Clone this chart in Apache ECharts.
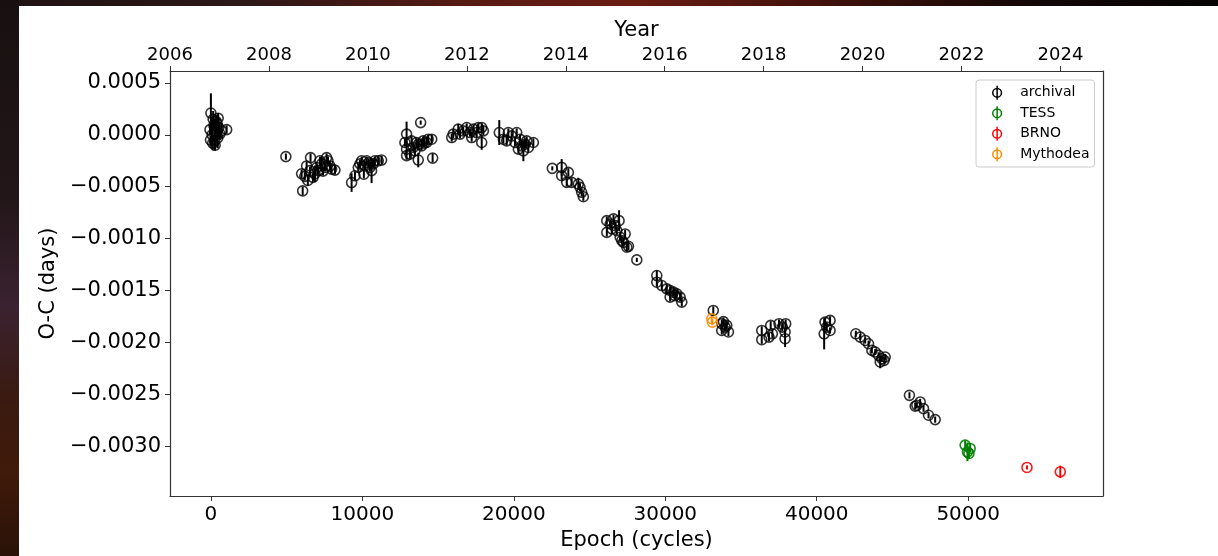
<!DOCTYPE html>
<html>
<head>
<meta charset="utf-8">
<script src="https://cdn.jsdelivr.net/npm/echarts@6/dist/echarts.min.js"></script>
<style>
  html, body { margin: 0; padding: 0; }
  body {
    width: 1218px; height: 556px; overflow: hidden; position: relative;
    background: linear-gradient(90deg, #1e1212 0%, #2c1818 20%, #5a1a12 40%, #6a1c12 52%, #3a100a 70%, #120707 85%, #060303 100%);
  }
  .leftStrip {
    position: absolute; left: 0; top: 0; width: 19px; height: 556px;
    background: linear-gradient(180deg, #181010 0%, #221618 35%, #3a2230 55%, #3a1a10 72%, #401a0a 85%, #2a1208 100%);
  }
  #chart {
    position: absolute; left: 19px; top: 6px; width: 1199px; height: 550px; background: #fff;
  }
</style>
</head>
<body>
<div class="leftStrip"></div>
<div id="chart"></div>
<script>
  // [epoch, O-C (days), error (days)]
  var archival = [
    [0, 0.00021, 0.00019], [150, 0.00015, 0.00008], [-60, 0.00005, 0.00005], [80, 0.00000, 0.00012],
    [200, 0.00009, 0.00006], [250, -0.00006, 0.00009], [320, 0.00003, 0.00014], [400, 0.00011, 0.00008],
    [450, -0.00003, 0.00010], [520, 0.00007, 0.00009], [600, 0.00001, 0.00006], [-30, -0.00005, 0.00004],
    [120, -0.00008, 0.00007], [350, 0.00013, 0.00005], [1040, 0.00005, 0.00004], [700, 0.00004, 0.00007],
    [480, 0.00016, 0.00005], [280, -0.00010, 0.00005],
    [4950, -0.00021, 0.00003],
    [6060, -0.00054, 0.00004], [5990, -0.000375, 0.00004], [6320, -0.0003, 0.00004], [6580, -0.00022, 0.00004],
    [6400, -0.00044, 0.00005], [6740, -0.00041, 0.00004], [6980, -0.000315, 0.00004], [7200, -0.00025, 0.00004],
    [7640, -0.00022, 0.00004], [7530, -0.000315, 0.00004], [7860, -0.0003, 0.00004], [8190, -0.00034, 0.00004],
    [6870, -0.000375, 0.00008], [7310, -0.00028, 0.00007], [6540, -0.000345, 0.00004], [7070, -0.000345, 0.00004],
    [7730, -0.00025, 0.00004], [7970, -0.00033, 0.00004], [6200, -0.0004, 0.00004], [7400, -0.00035, 0.00004],
    [9290, -0.00046, 0.00009], [9510, -0.000395, 0.00004], [9730, -0.000315, 0.00004], [9950, -0.00025, 0.00004],
    [10100, -0.00038, 0.00004], [10280, -0.00025, 0.00004], [10500, -0.000315, 0.00004], [10610, -0.000345, 0.00012],
    [10830, -0.00025, 0.00004], [11050, -0.00025, 0.00004], [11270, -0.000243, 0.00004], [9840, -0.00028, 0.00004],
    [10170, -0.0003, 0.00004], [10720, -0.00028, 0.00004], [10400, -0.00027, 0.00004],
    [12920, 0.000007, 0.00012], [13850, 0.000118, 0.00002], [12810, -0.000074, 0.00004], [12920, -0.000138, 0.00004],
    [12920, -0.0002, 0.00004], [13360, -0.000122, 0.00004], [13690, -0.000243, 0.00007], [14640, -0.000224, 0.00004],
    [13580, -0.000074, 0.00004], [14020, -0.000058, 0.00004], [14350, -0.000042, 0.00004], [14580, -0.000042, 0.00004],
    [14240, -0.000074, 0.00004], [13250, -0.000058, 0.00004], [13470, -0.000154, 0.00004], [13140, -0.000186, 0.00004],
    [13910, -0.000106, 0.00004], [13700, -0.00009, 0.00004], [14100, -0.00008, 0.00004],
    [16000, 0.000007, 0.00004], [15900, -0.000026, 0.00004], [16330, 0.000055, 0.00005], [16660, 0.000038, 0.00004],
    [16890, 0.00007, 0.00004], [17220, -0.000026, 0.00004], [17330, 0.000055, 0.00004], [17660, 0.00007, 0.00004],
    [17880, 0.00007, 0.00004], [17880, -0.000074, 0.00007], [17110, 0.000022, 0.00004], [17550, 0.000022, 0.00004],
    [16450, 0.000007, 0.00004], [17990, 0.000038, 0.00004],
    [19040, 0.000022, 0.00012], [19310, -0.000042, 0.00004], [19640, 0.000022, 0.00004], [19860, -0.00001, 0.00004],
    [20190, 0.000022, 0.00004], [20080, -0.000074, 0.00004], [20410, -0.000042, 0.00004], [20520, -0.000106, 0.00004],
    [20740, -0.00009, 0.00004], [20960, -0.000122, 0.00004], [21290, -0.000074, 0.00004], [20300, -0.000138, 0.00004],
    [20850, -0.000058, 0.00004], [19530, -0.000058, 0.00004], [20630, -0.000154, 0.0001],
    [22540, -0.000323, 0.00002], [23160, -0.000314, 0.00008], [23160, -0.000394, 0.00004], [23600, -0.000362, 0.00004],
    [23490, -0.000458, 0.00004], [23820, -0.000458, 0.00004], [24370, -0.000506, 0.00004], [24480, -0.000554, 0.00004],
    [24590, -0.000596, 0.00004], [24260, -0.000474, 0.00006],
    [26140, -0.000827, 0.00004], [26580, -0.00081, 0.00004], [26950, -0.000827, 0.0001], [26140, -0.00094, 0.00004],
    [26470, -0.000906, 0.00004], [26800, -0.000923, 0.00004], [27350, -0.000955, 0.00004], [27020, -0.000987, 0.00004],
    [27240, -0.001036, 0.00004], [27570, -0.001074, 0.00004], [27460, -0.001083, 0.00004], [26360, -0.000859, 0.00004],
    [26690, -0.000875, 0.00004], [27130, -0.001019, 0.00004], [28120, -0.001205, 0.00002],
    [29440, -0.001356, 0.00005], [29440, -0.00142, 0.00004], [29770, -0.001452, 0.00004], [30100, -0.001484, 0.00004],
    [30320, -0.0015, 0.00004], [30540, -0.001516, 0.00004], [30760, -0.001532, 0.00004], [30980, -0.001564, 0.00004],
    [31090, -0.001612, 0.00004], [30320, -0.001564, 0.00004], [30650, -0.00155, 0.00004],
    [33170, -0.001692, 0.00004], [33730, -0.00182, 0.00004], [33840, -0.0018, 0.00004], [33950, -0.001853, 0.00004],
    [34170, -0.0019, 0.00004], [33730, -0.001885, 0.00004], [34060, -0.001836, 0.00004],
    [36370, -0.001885, 0.00004], [36370, -0.001974, 0.00004], [36960, -0.001836, 0.00004], [37070, -0.001917, 0.00004],
    [37510, -0.00182, 0.00004], [37730, -0.001853, 0.00004], [37910, -0.0019, 0.00004], [37910, -0.001965, 0.00008],
    [37950, -0.00182, 0.00004], [36850, -0.001949, 0.00004],
    [40550, -0.001805, 0.00004], [40880, -0.001788, 0.00004], [40490, -0.001917, 0.00015], [40880, -0.001885, 0.00003],
    [40660, -0.001853, 0.00004],
    [42580, -0.001917, 0.00003], [42870, -0.001949, 0.00003], [43200, -0.001981, 0.00003], [43420, -0.002013, 0.00003],
    [43640, -0.002077, 0.00003], [43860, -0.002093, 0.00003], [44080, -0.002125, 0.00003], [44300, -0.002157, 0.00003],
    [44450, -0.002173, 0.00003], [44190, -0.002189, 0.00006], [44520, -0.002141, 0.00003],
    [46120, -0.00251, 0.00003], [46830, -0.002574, 0.00003], [46610, -0.002606, 0.00003], [47050, -0.002638, 0.00003],
    [47380, -0.002702, 0.00003], [47820, -0.002744, 0.00003], [46500, -0.002615, 0.00003]
  ];
  var tess = [[49800, -0.00299, 0.00004], [50130, -0.003022, 0.00004], [49950, -0.003055, 0.00009], [50050, -0.00307, 0.00005]];
  var brno = [[53880, -0.003205, 0.00002], [56080, -0.003247, 0.00006]];
  var mythodea = [[33070, -0.001772, 0.00004], [33110, -0.001805, 0.00003]];

  var epochTicks = [0, 10000, 20000, 30000, 40000, 50000];
  var yearTicks = [2006, 2008, 2010, 2012, 2014, 2016, 2018, 2020, 2022, 2024];
  var ocTicks = [0.0005, 0, -0.0005, -0.001, -0.0015, -0.002, -0.0025, -0.003];

  var groups = [
    {name: 'archival', data: archival, color: '#000000', alpha: 0.8},
    {name: 'TESS', data: tess, color: '#008000', alpha: 0.9},
    {name: 'BRNO', data: brno, color: '#ff0000', alpha: 0.9},
    {name: 'Mythodea', data: mythodea, color: '#ff8c00', alpha: 0.9}
  ];

  // open circle with a vertical error bar, like the matplotlib legend handle (stroked only)
  var phiIcon = 'path://M5,3 A5,5 0 1,1 5,13 A5,5 0 1,1 5,3 Z M5,0 L5,16';

  var font = 'DejaVu Sans';
  var axisColor = '#333';

  var series = [];
  groups.forEach(function (g) {
    series.push({
      type: 'custom',
      name: g.name + ' err',
      data: g.data,
      encode: {x: 0, y: 1},
      clip: true,
      silent: true,
      z: 2,
      renderItem: function (params, api) {
        var x = api.value(0), y = api.value(1), e = api.value(2);
        var p1 = api.coord([x, y + e]);
        var p2 = api.coord([x, y - e]);
        return {
          type: 'line',
          shape: {x1: p1[0], y1: p1[1], x2: p2[0], y2: p2[1]},
          style: {stroke: g.color, lineWidth: 2}
        };
      }
    });
    series.push({
      type: 'scatter',
      name: g.name,
      data: g.data,
      symbol: 'circle',
      symbolSize: 10,
      z: 3,
      itemStyle: {
        color: 'rgba(0,0,0,0)',
        borderColor: g.color,
        borderWidth: 1.6,
        opacity: g.alpha
      },
      emphasis: {disabled: true}
    });
  });

  var ocLabel = function (v) {
    var s = Math.abs(v).toFixed(4);
    return (v < -1e-12 ? '\u2212' : '') + s;
  };
  var plainLabel = function (v) {
    return String(Math.round(v));
  };

  var myChart = echarts.init(document.getElementById('chart'));
  var option = {
    animation: false,
    backgroundColor: '#fff',
    textStyle: {fontFamily: font, color: '#000'},
    grid: {left: 151, right: 115, top: 65, bottom: 60},
    legend: {
      orient: 'vertical',
      left: 957,
      top: 74,
      padding: [5, 5, 5, 16],
      itemWidth: 36,
      itemHeight: 14,
      itemGap: 5,
      symbolKeepAspect: true,
      backgroundColor: 'rgba(255,255,255,0.8)',
      borderColor: '#cccccc',
      borderWidth: 1,
      borderRadius: 3,
      textStyle: {fontFamily: font, fontSize: 14, color: '#000'},
      data: groups.map(function (g) {
        return {
          name: g.name,
          icon: phiIcon,
          itemStyle: {color: 'rgba(0,0,0,0)', borderColor: g.color, borderWidth: 1.5, opacity: 1}
        };
      })
    },
    xAxis: [{
      type: 'value',
      position: 'bottom',
      min: -2700,
      max: 58900,
      name: 'Epoch (cycles)',
      nameLocation: 'middle',
      nameGap: 34,
      nameTextStyle: {fontFamily: font, fontSize: 21, color: '#000'},
      axisLine: {show: true, onZero: false, lineStyle: {color: axisColor, width: 1.2}},
      axisTick: {show: true, length: 5, customValues: epochTicks, lineStyle: {color: axisColor, width: 1}},
      axisLabel: {customValues: epochTicks, margin: 9, fontSize: 20, color: '#000', fontFamily: font, formatter: plainLabel},
      splitLine: {show: false}
    }, {
      type: 'value',
      position: 'top',
      min: 2006,
      max: 2024.86,
      name: 'Year',
      nameLocation: 'middle',
      nameGap: 27,
      nameTextStyle: {fontFamily: font, fontSize: 21, color: '#000'},
      axisLine: {show: true, onZero: false, lineStyle: {color: axisColor, width: 1.2}},
      axisTick: {show: true, length: 5, customValues: yearTicks, lineStyle: {color: axisColor, width: 1}},
      axisLabel: {customValues: yearTicks, margin: 7, fontSize: 18, color: '#000', fontFamily: font, formatter: plainLabel},
      splitLine: {show: false}
    }],
    yAxis: [{
      type: 'value',
      position: 'left',
      min: -0.00348,
      max: 0.000615,
      name: 'O-C (days)',
      nameLocation: 'middle',
      nameGap: 108,
      nameTextStyle: {fontFamily: font, fontSize: 21, color: '#000'},
      axisLine: {show: true, onZero: false, lineStyle: {color: axisColor, width: 1.2}},
      axisTick: {show: true, length: 5, customValues: ocTicks, lineStyle: {color: axisColor, width: 1}},
      axisLabel: {customValues: ocTicks, margin: 9, fontSize: 21, color: '#000', fontFamily: font, formatter: ocLabel},
      splitLine: {show: false}
    }, {
      type: 'value',
      position: 'right',
      min: -0.00348,
      max: 0.000615,
      axisLine: {show: true, onZero: false, lineStyle: {color: axisColor, width: 1.2}},
      axisTick: {show: false},
      axisLabel: {show: false},
      splitLine: {show: false}
    }],
    series: series
  };
  myChart.setOption(option);
  window.addEventListener('resize', myChart.resize);
</script>
</body>
</html>
